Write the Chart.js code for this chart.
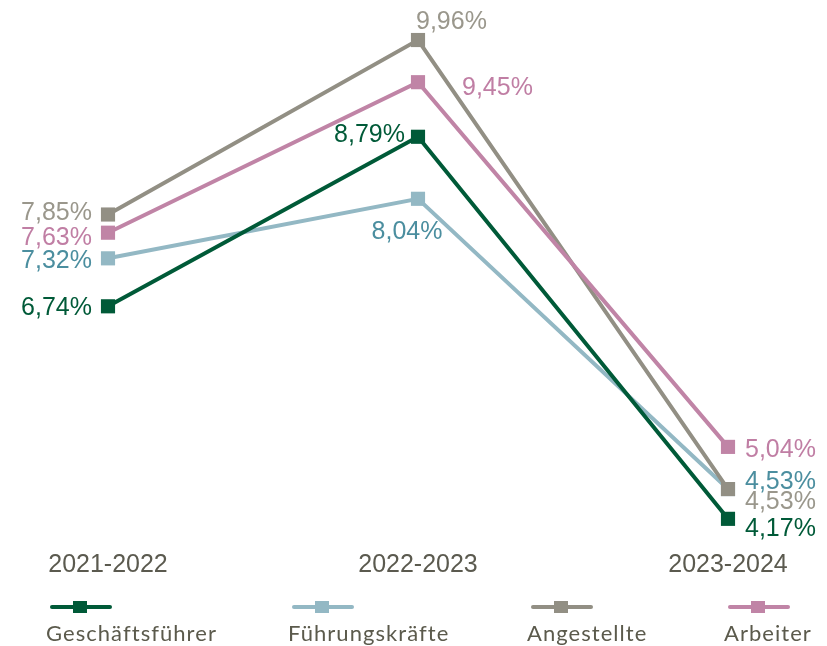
<!DOCTYPE html>
<html>
<head>
<meta charset="utf-8">
<script src="https://cdn.jsdelivr.net/npm/chart.js@4"></script>
<style>
  html, body { margin: 0; padding: 0; background: #ffffff; }
  #wrap { position: relative; width: 827px; height: 646px; overflow: hidden; }
  #c { position: absolute; left: 0; top: 0; }
  .leg { position: absolute; top: 596px; font-family: Lato, "Open Sans", sans-serif; font-size: 22px; letter-spacing: 1.05px; color: #5b5a4c; }
  .leg .mk { position: relative; width: 62px; height: 20px; }
  .leg .mk .ln { position: absolute; left: 0; top: 9px; width: 62px; height: 4px; border-radius: 2px; }
  .leg .mk .sq { position: absolute; left: 23px; top: 5px; width: 14px; height: 12px; }
  .leg .tx { position: absolute; top: 24px; left: -4px; white-space: nowrap; line-height: 26px; }
</style>
</head>
<body>
<div id="wrap">
  <canvas id="c" width="827" height="646"></canvas>
  <div id="legend"></div>
</div>
<script>
const categories = ["2021-2022", "2022-2023", "2023-2024"];
const seriesNames = ["Geschäftsführer", "Führungskräfte", "Angestellte", "Arbeiter"];
const geschaeftsfuehrer = [6.74, 8.79, 4.17];
const fuehrungskraefte = [7.32, 8.04, 4.53];
const angestellte = [7.85, 9.96, 4.53];
const arbeiter = [7.63, 9.45, 5.04];

const lineColors = ["#005a38", "#93b8c4", "#928f84", "#c084a6"];
const labelColors = ["#005a38", "#4b8e9f", "#9a978c", "#c07ea4"];

// label placement per series / point: [align, dx, dy]
const labelPlacement = [
  [["right", -16, 2], ["right", -13, -2], ["left", 17, 10]],
  [["right", -16, 3], ["center", -11, 33], ["left", 17, -7]],
  [["right", -16, -1], ["left", -2, -18], ["left", 17, 13]],
  [["right", -16, 5], ["left", 44, 6], ["left", 17, 3]]
];

const allValues = [geschaeftsfuehrer, fuehrungskraefte, angestellte, arbeiter];

function fmt(v) {
  return v.toFixed(2).replace('.', ',') + '%';
}

const labelPlugin = {
  id: 'valueLabels',
  afterDatasetsDraw(chart) {
    const ctx = chart.ctx;
    ctx.save();
    ctx.font = '25px "Liberation Sans", Arial, sans-serif';
    ctx.textBaseline = 'middle';
    chart.data.datasets.forEach((ds, i) => {
      const meta = chart.getDatasetMeta(i);
      meta.data.forEach((pt, j) => {
        const p = labelPlacement[i][j];
        ctx.fillStyle = labelColors[i];
        ctx.textAlign = p[0];
        ctx.fillText(fmt(ds.data[j]), pt.x + p[1], pt.y + p[2]);
      });
    });
    ctx.restore();
  }
};

const datasets = allValues.map((vals, i) => ({
  label: seriesNames[i],
  data: vals,
  borderColor: lineColors[i],
  backgroundColor: lineColors[i],
  borderWidth: 4,
  pointStyle: 'rect',
  pointRadius: 10,
  pointHoverRadius: 10,
  pointBorderWidth: 0,
  pointBackgroundColor: lineColors[i],
  tension: 0,
  clip: false,
  order: [0, 3, 2, 1][i]
}));

new Chart(document.getElementById('c'), {
  type: 'line',
  data: { labels: categories, datasets: datasets },
  options: {
    responsive: false,
    animation: false,
    devicePixelRatio: 1,
    layout: { padding: { left: 108, right: 99, top: 10, bottom: 56 } },
    plugins: { legend: { display: false }, tooltip: { enabled: false } },
    scales: {
      x: {
        type: 'category',
        offset: false,
        grid: { display: false, drawTicks: false },
        border: { display: false },
        ticks: {
          padding: 10,
          color: '#5b5a4f',
          font: { family: '"Liberation Sans", Arial, sans-serif', size: 25 },
          maxRotation: 0,
          autoSkip: false
        }
      },
      y: {
        display: false,
        min: 3.914,
        max: 10.323
      }
    }
  },
  plugins: [labelPlugin]
});

// HTML legend
const legendLeft = [50, 292, 531, 728];
const legendEl = document.getElementById('legend');
seriesNames.forEach((name, i) => {
  const d = document.createElement('div');
  d.className = 'leg';
  d.style.left = legendLeft[i] + 'px';
  d.innerHTML = '<div class="mk"><div class="ln" style="background:' + lineColors[i] + '"></div><div class="sq" style="background:' + lineColors[i] + '"></div></div><div class="tx">' + name + '</div>';
  legendEl.appendChild(d);
});
</script>
</body>
</html>
